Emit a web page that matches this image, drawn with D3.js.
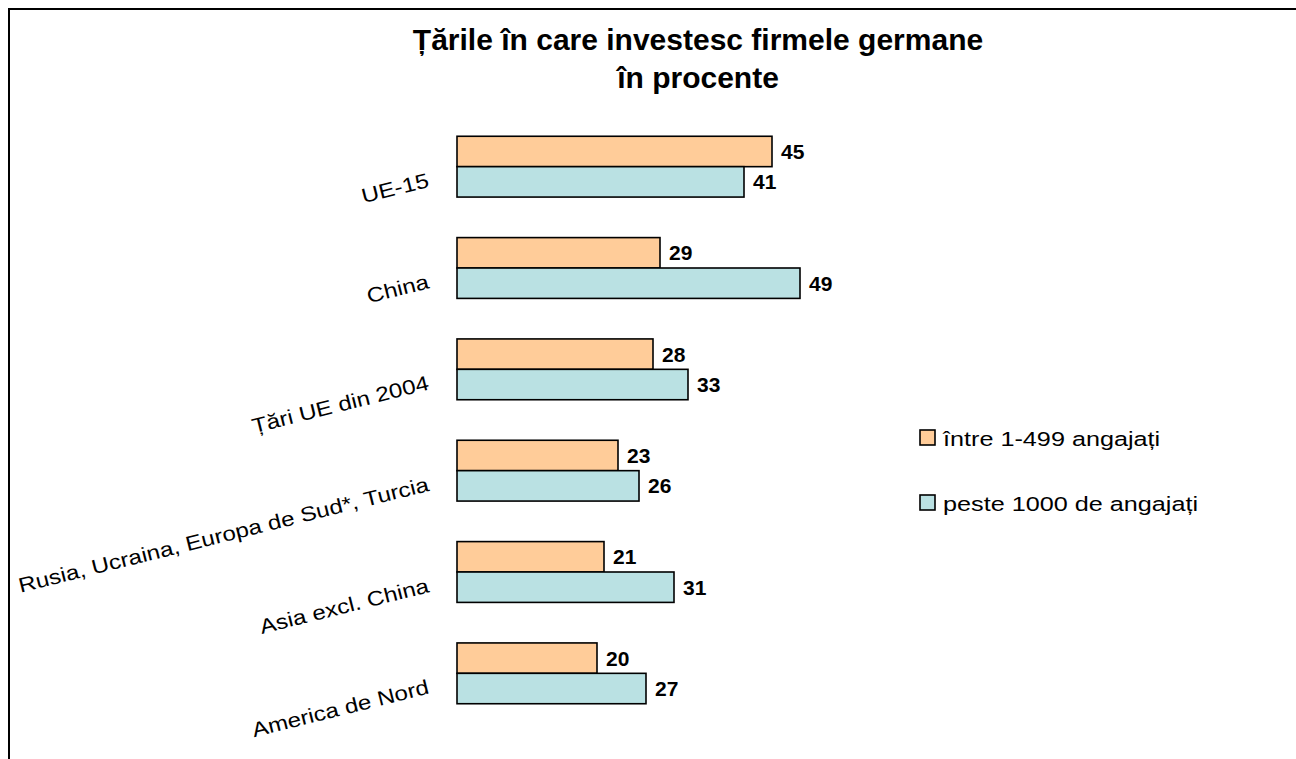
<!DOCTYPE html>
<html>
  <head>
    <meta charset="utf-8">
    <title>Țările în care investesc firmele germane</title>
    <script src="https://cdn.jsdelivr.net/npm/d3@7"></script>
    <style>
      body { margin: 0; background: #fff; }
      svg { display: block; font-family: "Liberation Sans", Arial, sans-serif; }
    </style>
  </head>

  <body>
    <svg id="chart" width="1296" height="759"></svg>

    <script>
      // data
      categories = [
        "UE-15",
        "China",
        "Țări UE din 2004",
        "Rusia, Ucraina, Europa de Sud*, Turcia",
        "Asia excl. China",
        "America de Nord"
      ];
      seriesNames = ["între 1-499 angajați", "peste 1000 de angajați"];
      small = [45, 29, 28, 23, 21, 20];
      large = [41, 49, 33, 26, 31, 27];
      titleLines = ["Țările în care investesc firmele germane", "în procente"];

      colours = ["#FFCC99", "#BAE1E3"];
      // text in the original is drawn a little wide
      labelStretch = 1.18;
      legendStretch = 1.23;

      rows = categories.map(function(d, i) {
        return { name: d, values: [small[i], large[i]] };
      });

      svg = d3.select("#chart");

      // frame
      svg.append("rect")
        .attr("x", 9)
        .attr("y", 9)
        .attr("width", 1320)
        .attr("height", 800)
        .attr("fill", "none")
        .attr("stroke", "#000")
        .attr("stroke-width", 2);

      // title
      svg.append("g")
        .selectAll("text")
        .data(titleLines)
        .enter().append("text")
          .attr("x", 698)
          .attr("y", function(d, i) { return 50 + i * 38; })
          .attr("text-anchor", "middle")
          .style("font-size", "30px")
          .style("font-weight", "bold")
          .text(function(d) { return d; });

      // scales
      x = d3.scaleLinear()
        .domain([0, 50])
        .range([457, 807]);
      y = d3.scaleBand()
        .domain(categories)
        .range([116, 724])
        .paddingInner(0.4)
        .paddingOuter(0.2);
      ySub = d3.scaleBand()
        .domain([0, 1])
        .range([0, y.bandwidth()]);

      groups = svg.append("g")
        .selectAll(".category")
        .data(rows)
        .enter().append("g")
          .classed("category", true)
          .attr("transform", function(d) { return "translate(0," + y(d.name) + ")"; });

      groups.selectAll("rect")
        .data(function(d) { return d.values; })
        .enter().append("rect")
          .attr("x", x(0))
          .attr("y", function(d, i) { return ySub(i); })
          .attr("width", function(d) { return x(d) - x(0); })
          .attr("height", ySub.bandwidth())
          .attr("fill", function(d, i) { return colours[i]; })
          .attr("stroke", "#000")
          .attr("stroke-width", 1.6);

      groups.selectAll(".value")
        .data(function(d) { return d.values; })
        .enter().append("text")
          .classed("value", true)
          .attr("x", function(d) { return x(d) + 9; })
          .attr("y", function(d, i) { return ySub(i) + ySub.bandwidth() / 2; })
          .attr("dy", "0.36em")
          .style("font-size", "21px")
          .style("font-weight", "bold")
          .text(function(d) { return d; });

      // category labels, tilted
      svg.append("g")
        .selectAll("text")
        .data(categories)
        .enter().append("text")
          .attr("transform", function(d) {
            return "translate(430," + (y(d) + y.bandwidth() / 2 + 20) + ") rotate(-14) scale(" + labelStretch + ",1)";
          })
          .attr("text-anchor", "end")
          .style("font-size", "20.5px")
          .text(function(d) { return d; });

      // legend
      legend = svg.append("g")
        .selectAll("g")
        .data(seriesNames)
        .enter().append("g")
          .attr("transform", function(d, i) { return "translate(920," + (430 + i * 65) + ")"; });
      legend.append("rect")
        .attr("width", 15)
        .attr("height", 15)
        .attr("fill", function(d, i) { return colours[i]; })
        .attr("stroke", "#000")
        .attr("stroke-width", 1.6);
      legend.append("text")
        .attr("transform", "translate(23,15.5) scale(" + legendStretch + ",1)")
        .style("font-size", "20.5px")
        .text(function(d) { return d; });
    </script>
  </body>
</html>
